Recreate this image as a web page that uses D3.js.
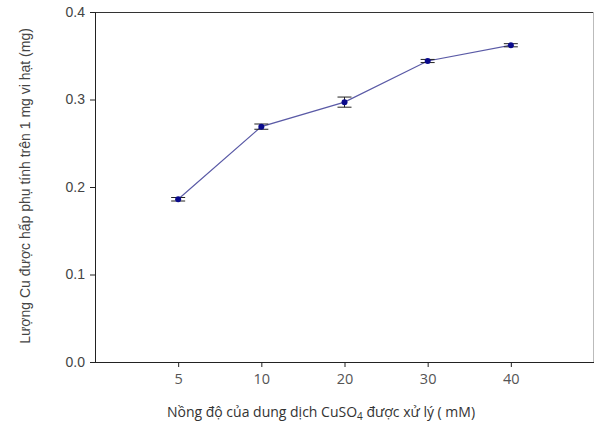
<!DOCTYPE html>
<html>
<head>
<meta charset="utf-8">
<script src="https://cdn.jsdelivr.net/npm/d3@7"></script>
<style>
  body { margin: 0; background: #fff; }
  svg { display: block; }
</style>
</head>
<body>
<svg id="chart"></svg>
<script>
  // data
  const concentrations = ['5', '10', '20', '30', '40'];
  const copperAdsorbed = [0.186, 0.269, 0.297, 0.344, 0.362];
  const errors = [0.002, 0.003, 0.0058, 0.0018, 0.0018];
  const yTicks = [0.0, 0.1, 0.2, 0.3, 0.4];

  const width = 595, height = 423;
  const margin = { top: 12, right: 1, bottom: 61, left: 95 };

  const svg = d3.select('#chart').attr('width', width).attr('height', height);

  const x = d3.scalePoint()
    .domain(concentrations)
    .range([margin.left, width - margin.right])
    .padding(1);

  const y = d3.scaleLinear()
    .domain([0, 0.4])
    .range([height - margin.bottom, margin.top]);

  // frame: top line and light right edge
  svg.append('line')
    .attr('x1', margin.left - 5).attr('x2', width - margin.right)
    .attr('y1', y(0.4) + 0.5).attr('y2', y(0.4) + 0.5)
    .attr('stroke', '#333').attr('stroke-width', 1);
  svg.append('line')
    .attr('x1', width - margin.right - 0.5).attr('x2', width - margin.right - 0.5)
    .attr('y1', y(0.4)).attr('y2', y(0))
    .attr('stroke', '#bbb').attr('stroke-width', 1);

  // y axis
  const yAxis = svg.append('g')
    .attr('transform', `translate(${margin.left},0)`)
    .call(d3.axisLeft(y).tickValues(yTicks).tickFormat(d3.format('.1f')).tickSize(5).tickSizeOuter(0));
  yAxis.select('.domain').attr('stroke', '#222');
  yAxis.selectAll('.tick line').attr('stroke', '#222');
  yAxis.selectAll('text')
    .style('font-family', '"Liberation Sans", Arial, sans-serif')
    .style('font-size', '14px')
    .attr('fill', '#444')
    .attr('x', -10);

  // x axis
  const xAxis = svg.append('g')
    .attr('transform', `translate(0,${y(0)})`)
    .call(d3.axisBottom(x).tickSize(5).tickSizeOuter(0));
  xAxis.select('.domain').attr('d', `M${margin.left - 5},0.5H${width - margin.right}`).attr('stroke', '#222');
  xAxis.selectAll('.tick line').attr('stroke', '#222');
  xAxis.selectAll('text')
    .style('font-family', '"Open Sans", sans-serif')
    .style('font-size', '14.5px')
    .attr('fill', '#555')
    .attr('y', 12);

  // connecting line
  const points = concentrations.map((c, i) => ({ c: c, v: copperAdsorbed[i], e: errors[i] }));

  svg.append('path')
    .datum(points)
    .attr('fill', 'none')
    .attr('stroke', '#5a5aa6')
    .attr('stroke-width', 1.2)
    .attr('d', d3.line().x(d => x(d.c)).y(d => y(d.v)));

  // error bars
  const eb = svg.append('g').selectAll('g')
    .data(points)
    .enter()
    .append('g')
    .attr('stroke', '#222')
    .attr('stroke-width', 1);
  eb.append('line')
    .attr('x1', d => x(d.c)).attr('x2', d => x(d.c))
    .attr('y1', d => y(d.v - d.e)).attr('y2', d => y(d.v + d.e));
  eb.append('line')
    .attr('x1', d => x(d.c) - 7).attr('x2', d => x(d.c) + 7)
    .attr('y1', d => y(d.v + d.e)).attr('y2', d => y(d.v + d.e));
  eb.append('line')
    .attr('x1', d => x(d.c) - 7).attr('x2', d => x(d.c) + 7)
    .attr('y1', d => y(d.v - d.e)).attr('y2', d => y(d.v - d.e));

  // markers
  svg.append('g').selectAll('circle')
    .data(points)
    .enter()
    .append('circle')
    .attr('cx', d => x(d.c))
    .attr('cy', d => y(d.v))
    .attr('r', 3)
    .attr('fill', '#0a0a8c');

  // axis titles
  svg.append('text')
    .attr('transform', `translate(30,${(y(0) + y(0.4)) / 2 - 1}) rotate(-90)`)
    .attr('text-anchor', 'middle')
    .style('font-family', '"Liberation Sans", Arial, sans-serif')
    .style('font-size', '14px')
    .attr('fill', '#444')
    .text('Lượng Cu được hấp phụ tính trên 1 mg vi hạt (mg)');

  const xTitle = svg.append('text')
    .attr('x', 321)
    .attr('y', 417)
    .attr('text-anchor', 'middle')
    .style('font-family', '"Open Sans", sans-serif')
    .style('font-size', '14px')
    .attr('fill', '#333');
  xTitle.append('tspan').text('Nồng độ của dung dịch CuSO');
  xTitle.append('tspan').style('font-size', '10px').attr('dy', 3).text('4');
  xTitle.append('tspan').attr('dy', -3).text(' được xử lý ( mM)');
</script>
</body>
</html>
